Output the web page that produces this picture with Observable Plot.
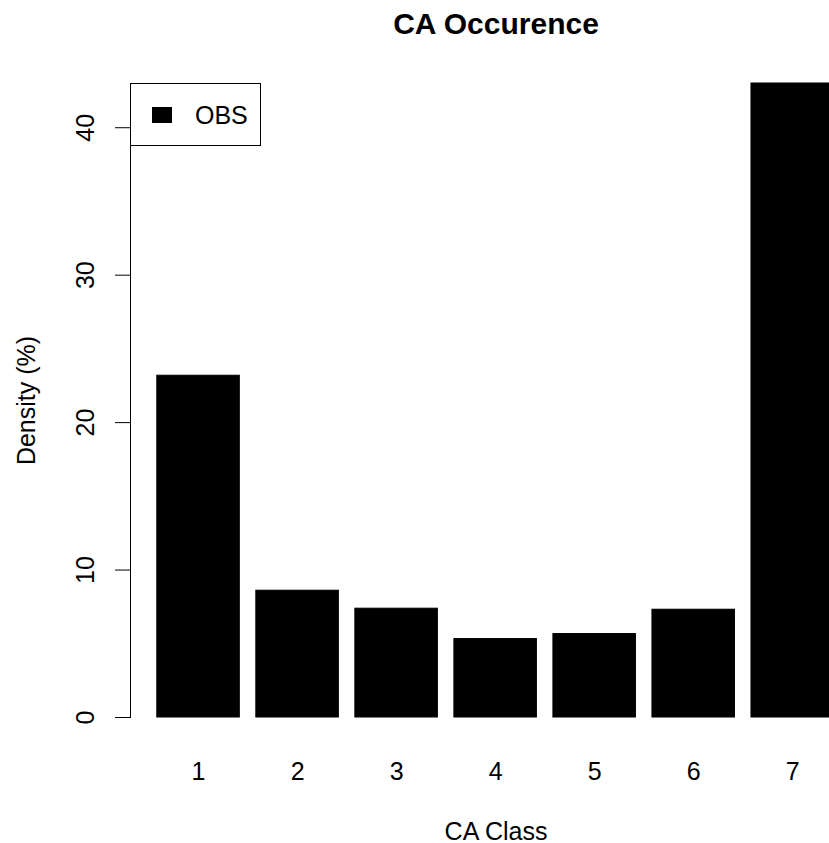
<!DOCTYPE html>
<html>
<head>
<meta charset="utf-8">
<script src="https://cdn.jsdelivr.net/npm/d3@7"></script>
<script src="https://cdn.jsdelivr.net/npm/@observablehq/plot@0.6"></script>
<style>
  html, body { margin: 0; padding: 0; background: white; overflow: hidden; }
  #chart svg { display: block; }
</style>
</head>
<body>
<div id="chart"></div>
<script>
// ---- data ----
const classes = ["1", "2", "3", "4", "5", "6", "7"];
const density = [23.18, 8.60, 7.38, 5.32, 5.66, 7.31, 43.0];
const yTicks = [0, 10, 20, 30, 40];
const legendLabels = ["OBS"];
const titleText = "CA Occurence";
const xLabel = "CA Class";
const yLabel = "Density (%)";

const rows = classes.map((c, i) => ({cls: c, value: density[i]}));
const FONT = "'Liberation Sans', Arial, Helvetica, sans-serif";
const FS = 25;

const legendMark = () => {
  const g = d3.create("svg:g");
  g.append("rect")
    .attr("x", 130.5).attr("y", 83.5).attr("width", 130).attr("height", 62)
    .attr("fill", "white").attr("stroke", "black").attr("stroke-width", 1);
  legendLabels.forEach((lab, i) => {
    g.append("rect")
      .attr("x", 152).attr("y", 107 + i * 30).attr("width", 20).attr("height", 16)
      .attr("fill", "black");
    g.append("text")
      .attr("x", 195).attr("y", 124 + i * 30)
      .attr("text-anchor", "start")
      .attr("font-size", FS).attr("fill", "black")
      .text(lab);
  });
  return g.node();
};

const chart = Plot.plot({
  width: 829,
  height: 843,
  marginLeft: 130,
  marginRight: 0,
  marginTop: 83,
  marginBottom: 126,
  style: {fontFamily: FONT, fontSize: FS + "px", background: "white", color: "black"},
  x: {type: "band", domain: classes, range: [156.8, 833.5], paddingInner: 1 / 6, paddingOuter: 0, align: 0.5, round: false, axis: null},
  y: {domain: [0, 43], axis: null},
  marks: [
    Plot.barY(rows, {x: "cls", y: "value", fill: "black", stroke: "black", strokeWidth: 1, inset: 0}),
    Plot.frame({anchor: "left", stroke: "black"}),
    Plot.axisY(yTicks, {anchor: "left", tickSize: 15, tickFormat: () => "", label: null, stroke: "black"}),
    Plot.text(yTicks, {y: d => d, text: d => String(d), frameAnchor: "left", dx: -37, rotate: -90, textAnchor: "middle", lineAnchor: "bottom", fontSize: FS, fill: "black"}),
    Plot.text(classes, {x: d => d, text: d => d, frameAnchor: "bottom", dy: 62, lineAnchor: "bottom", textAnchor: "middle", fontSize: FS, fill: "black"}),
    Plot.text([titleText], {text: d => d, frameAnchor: "top", dx: 16, dy: -50, lineAnchor: "bottom", fontSize: 30, fontWeight: "bold", fill: "black"}),
    Plot.text([xLabel], {text: d => d, frameAnchor: "bottom", dx: 16, dy: 122, lineAnchor: "bottom", fontSize: FS, fill: "black"}),
    Plot.text([yLabel], {text: d => d, frameAnchor: "left", dx: -96, rotate: -90, textAnchor: "middle", lineAnchor: "bottom", fontSize: FS, fill: "black"}),
    legendMark
  ]
});
document.getElementById("chart").appendChild(chart);
</script>
</body>
</html>
